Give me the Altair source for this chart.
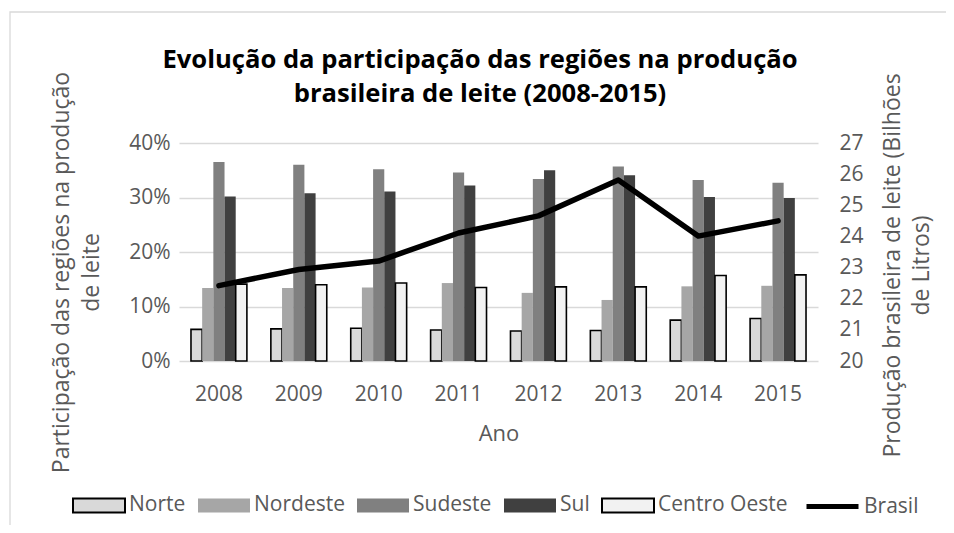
import altair as alt
import pandas as pd

anos = ["2008", "2009", "2010", "2011", "2012", "2013", "2014", "2015"]
regioes = ["Norte", "Nordeste", "Sudeste", "Sul", "Centro Oeste"]
norte = [5.8, 5.9, 6.0, 5.7, 5.5, 5.6, 7.5, 7.8]
nordeste = [13.4, 13.4, 13.5, 14.3, 12.5, 11.2, 13.7, 13.8]
sudeste = [36.5, 36.0, 35.2, 34.6, 33.4, 35.7, 33.2, 32.7]
sul = [30.2, 30.8, 31.1, 32.2, 35.0, 34.1, 30.1, 29.9]
centro_oeste = [14.1, 14.0, 14.3, 13.5, 13.6, 13.6, 15.7, 15.8]
brasil = [22.42, 22.94, 23.21, 24.11, 24.66, 25.81, 24.01, 24.50]

titulo = ["Evolução da participação das regiões na produção",
          "brasileira de leite (2008-2015)"]
titulo_esq = ["Participação das regiões na produção", "de leite"]
titulo_dir = ["Produção brasileira de leite (Bilhões", "de Litros)"]

cores = ["#d9d9d9", "#a6a6a6", "#808080", "#404040", "#f2f2f2"]
bordas = ["#000000", "transparent", "transparent", "transparent", "#000000"]

series = [norte, nordeste, sudeste, sul, centro_oeste]
rows = []
for reg, vals in zip(regioes, series):
    for ano, v in zip(anos, vals):
        rows.append({"ano": ano, "regiao": reg, "valor": v / 100})
df_bars = pd.DataFrame(rows)
df_line = pd.DataFrame({"ano": anos, "brasil": brasil, "serie": ["Brasil"] * len(anos)})
dummy = pd.DataFrame({"a": [0]})

W, H = 639, 218
FONT = "Open Sans"
GRAY = "#595959"

x_axis = alt.Axis(title="Ano", labelAngle=0, labelFontSize=21, labelColor=GRAY,
                  labelPadding=22, ticks=False, domain=False, grid=False,
                  titleFontSize=22, titleColor=GRAY, titleFontWeight="normal",
                  titleY=79, titleX=W / 2, titleBaseline="alphabetic")
x_scale = alt.Scale(domain=anos, paddingInner=0.3, paddingOuter=0.15)

frame = alt.Chart(dummy).mark_rect(fill="transparent", stroke="#d9d9d9", strokeWidth=1.3).encode(
    x=alt.value(-169), x2=alt.value(900), y=alt.value(-131), y2=alt.value(600)
)

legend_sym = "M-1,-0.27H1V0.27H-1Z"


def bar_legend():
    return alt.Legend(title=None, orient="none", direction="horizontal",
                      legendX=-107, legendY=335, symbolType=legend_sym,
                      symbolSize=2704, symbolStrokeWidth=2,
                      labelFontSize=21, labelColor=GRAY, labelOffset=3,
                      columnPadding=8, symbolOpacity=1)


bars = alt.Chart(df_bars).mark_bar(strokeWidth=1.6).encode(
    x=alt.X("ano:N", scale=x_scale, axis=x_axis),
    xOffset=alt.XOffset("regiao:N", scale=alt.Scale(domain=regioes, paddingInner=0, paddingOuter=0)),
    y=alt.Y("valor:Q", scale=alt.Scale(domain=[0, 0.4]),
            axis=alt.Axis(orient="left", values=[0, 0.1, 0.2, 0.3, 0.4], format=".0%",
                          labelFontSize=21, labelColor=GRAY, labelPadding=9,
                          ticks=False, domain=False, grid=True, gridColor="#d9d9d9",
                          gridWidth=1.3, title=titulo_esq, titleFontSize=23,
                          titleColor=GRAY, titleFontWeight="normal", titleAngle=-90,
                          titleX=-111, titleY=129, titleAlign="center",
                          titleBaseline="alphabetic", titleLineHeight=30)),
    color=alt.Color("regiao:N", scale=alt.Scale(domain=regioes, range=cores),
                    legend=bar_legend()),
    stroke=alt.Stroke("regiao:N", scale=alt.Scale(domain=regioes, range=bordas),
                      legend=bar_legend()),
)

line = alt.Chart(df_line).mark_line(strokeWidth=5.5, strokeCap="round", strokeJoin="round").encode(
    x=alt.X("ano:N", scale=x_scale, axis=x_axis),
    y=alt.Y("brasil:Q", scale=alt.Scale(domain=[20, 27]),
            axis=alt.Axis(orient="right", values=[20, 21, 22, 23, 24, 25, 26, 27],
                          labelFontSize=21, labelColor=GRAY, labelPadding=21,
                          ticks=False, domain=False, grid=False,
                          title=titulo_dir, titleFontSize=23, titleColor=GRAY,
                          titleFontWeight="normal", titleAngle=-90, titleX=81, titleY=122,
                          titleAlign="center", titleBaseline="alphabetic",
                          titleLineHeight=29)),
    color=alt.Color("serie:N", scale=alt.Scale(domain=["Brasil"], range=["#000000"]),
                    legend=alt.Legend(title=None, orient="none", direction="horizontal",
                                      legendX=625, legendY=335, symbolType="stroke",
                                      symbolSize=2704, symbolStrokeWidth=5,
                                      labelFontSize=21, labelColor=GRAY, labelOffset=3)),
)

title = alt.Chart(dummy).mark_text(
    text=titulo, font=FONT, fontSize=25.6, fontWeight="bold", color="#000000",
    align="center", baseline="alphabetic", lineHeight=34
).encode(x=alt.value(301), y=alt.value(-75))

chart = alt.layer(frame, bars, line, title).resolve_scale(
    y="independent", color="independent", stroke="independent"
).properties(
    width=W, height=H, autosize="none",
    padding={"left": 171, "top": 135, "right": 128, "bottom": 164},
).configure(font=FONT).configure_view(stroke=None)

chart.save("out.html", embed_options={"renderer": "svg", "actions": False})
